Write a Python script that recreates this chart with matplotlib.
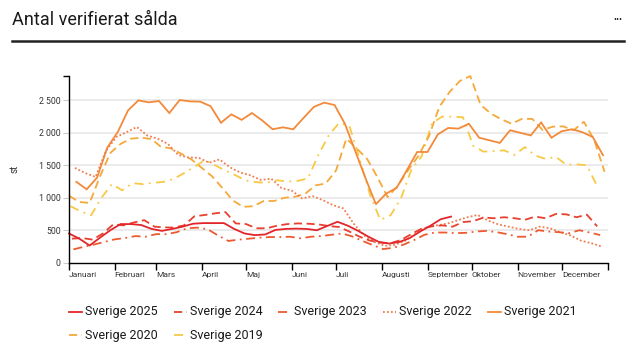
import datetime as dt
import matplotlib
matplotlib.use("Agg")
import matplotlib.pyplot as plt
from matplotlib.lines import Line2D

plt.rcParams['font.family'] = ['Liberation Sans Narrow', 'Roboto', 'DejaVu Sans']

months = ['Januari', 'Februari', 'Mars', 'April', 'Maj', 'Juni', 'Juli',
          'Augusti', 'September', 'Oktober', 'November', 'December']
month_start_days = [0, 31, 59, 90, 120, 151, 181, 212, 243, 273, 304, 334, 365]

s2025 = [450, 370, 265, 385, 500, 595, 595, 580, 520, 490, 520, 555, 600, 610, 610, 610,
         520, 450, 425, 435, 505, 520, 525, 520, 500, 565, 630, 570, 490, 400, 320, 295,
         320, 380, 480, 570, 670, 710]
s2024 = [370, 380, 355, 450, 590, 575, 620, 655, 555, 545, 540, 575, 715, 735, 760, 780,
         605, 595, 530, 530, 570, 595, 605, 600, 590, 565, 550, 480, 400, 340, 310, 300,
         350, 440, 525, 560, 575, 555, 625, 640, 695, 685, 700, 685, 660, 710, 685, 750,
         745, 700, 740, 560]
s2023 = [205, 245, 280, 320, 360, 380, 410, 400, 440, 440, 470, 530, 540, 515, 420, 335,
         355, 370, 385, 395, 395, 400, 375, 400, 410, 430, 450, 405, 335, 270, 210, 230,
         280, 350, 430, 465, 465, 455, 460, 480, 490, 470, 440, 400, 400, 500, 480, 470,
         455, 500, 465, 425]
s2022 = [1460, 1380, 1320, 1720, 1935, 2010, 2090, 1960, 1910, 1830, 1660, 1620, 1615,
         1540, 1590, 1470, 1390, 1345, 1275, 1295, 1150, 1110, 990, 1025, 965, 885, 835,
         600, 420, 320, 260, 275, 340, 450, 540, 575, 600, 650, 700, 735, 650, 590, 555,
         520, 500, 555, 530, 470, 420, 340, 300, 250]
s2021 = [1245, 1130, 1310, 1775, 2010, 2345, 2500, 2470, 2490, 2305, 2505, 2485, 2480,
         2410, 2155, 2285, 2200, 2305, 2190, 2055, 2085, 2055, 2230, 2400, 2465, 2428,
         2140, 1720, 1300, 900, 1065, 1150, 1425, 1705, 1705, 1975, 2075, 2065, 2140,
         1925, 1885, 1845, 2040, 2000, 1960, 2160, 1925, 2025, 2055, 2010, 1935, 1655]
s2020 = [1030, 935, 920, 1330, 1690, 1830, 1910, 1925, 1905, 1790, 1760, 1680, 1590,
         1460, 1330, 1150, 960, 860, 870, 950, 950, 1000, 1015, 1060, 1190, 1220, 1420,
         1910, 1760, 1600, 1320, 1010, 1190, 1430, 1650, 1950, 2400, 2630, 2800, 2875,
         2430, 2295, 2210, 2140, 2215, 2215, 2045, 2095, 2100, 2040, 2170, 1890, 1400]
s2019 = [870, 790, 730, 1000, 1210, 1115, 1225, 1210, 1230, 1245, 1290, 1380, 1475,
         1580, 1500, 1420, 1345, 1265, 1240, 1230, 1270, 1250, 1260, 1300, 1660, 1960,
         2150, 2110, 1600, 1050, 660, 730, 990, 1430, 1640, 2150, 2250, 2250, 2240, 1800,
         1710, 1720, 1730, 1660, 1780, 1650, 1600, 1630, 1510, 1515, 1500, 1180]

years = [2025, 2024, 2023, 2022, 2021, 2020, 2019]
labels = ['Sverige 2025', 'Sverige 2024', 'Sverige 2023', 'Sverige 2022',
          'Sverige 2021', 'Sverige 2020', 'Sverige 2019']
values = [s2025, s2024, s2023, s2022, s2021, s2020, s2019]
colors = ['#E3262B', '#E8402F', '#EE5A30', '#F07D4E', '#F28A3A', '#F5A93A', '#F7C945']
styles = ['-', (0, (4.5, 2.5)), (0, (5, 2.5, 1, 2.5)), (0, (1, 1.2)), '-',
          (0, (4.5, 2.5)), (0, (5, 3, 1, 3))]


def week_days(year, n):
    out = []
    for w in range(1, n + 1):
        d = dt.date.fromisocalendar(year, w, 3)
        d2 = dt.date(2001, d.month, d.day)
        out.append((d2 - dt.date(2001, 1, 1)).days)
    return out


W, H = 636, 364
fig = plt.figure(figsize=(W / 100, H / 100), dpi=100)
x0, x1, y0, y1 = 69, 607.5, 262.7, 75.7
ax = fig.add_axes([x0 / W, 1 - y0 / H, (x1 - x0) / W, (y0 - y1) / H])

for yr, vals, c, ls in reversed(list(zip(years, values, colors, styles))):
    ax.plot(week_days(yr, len(vals)), vals, color=c, linestyle=ls, lw=1.3,
            solid_joinstyle='miter', clip_on=False)

ax.set_xlim(0, 365)
ax.set_ylim(0, 2880)
ax.set_yticks([0, 500, 1000, 1500, 2000, 2500])
ax.set_yticklabels([f'{v:,}'.replace(',', ' ') for v in [0, 500, 1000, 1500, 2000, 2500]])
ax.set_yticks([2880], minor=True)
ax.tick_params(axis='y', which='major', length=4, color='#cccccc', labelsize=6.3,
               labelcolor='#333333', pad=2)
ax.tick_params(axis='y', which='minor', length=4, color='black', width=1)
for g in [500, 1000, 1500, 2000, 2500]:
    ax.axhline(g, color='#e9e9e9', lw=1.3, zorder=0)

ax.set_xticks(month_start_days)
ax.set_xticklabels(months + [''])
ax.tick_params(axis='x', length=5, color='black', width=1, labelsize=6,
               labelcolor='#333333', pad=2)
for lab in ax.get_xticklabels():
    lab.set_horizontalalignment('left')

for s in ['top', 'right']:
    ax.spines[s].set_visible(False)
for s in ['left', 'bottom']:
    ax.spines[s].set_color('black')
    ax.spines[s].set_linewidth(1)

ax.set_ylabel('st', fontsize=7, color='#333333')
ax.yaxis.set_label_coords((20 - x0) / (x1 - x0), 0.5)

# title area
fig.text(12 / W, 1 - 20 / H, 'Antal verifierat sålda', fontsize=13, va='center',
         ha='left', color='#1a1a1a')
fig.text(622 / W, 1 - 20 / H, '•••', fontsize=6.5, va='center', ha='right', color='#1a1a1a')
fig.add_artist(Line2D([12 / W, 624 / W], [1 - 41 / H, 1 - 41 / H], color='#222222', lw=1.8,
                      transform=fig.transFigure))

# legend
for i, (lab, c, ls) in enumerate(zip(labels, colors, styles)):
    col, row = i % 5, i // 5
    lx = 69 + col * 104.7
    ly = 312 + row * 23
    fig.add_artist(Line2D([lx / W, (lx + 13) / W], [1 - ly / H, 1 - ly / H], color=c,
                          linestyle=ls, lw=1.3, transform=fig.transFigure))
    fig.text((lx + 16) / W, 1 - ly / H, lab, fontsize=9, va='center', ha='left',
             color='#1a1a1a')

fig.savefig('out.png', dpi=100)
